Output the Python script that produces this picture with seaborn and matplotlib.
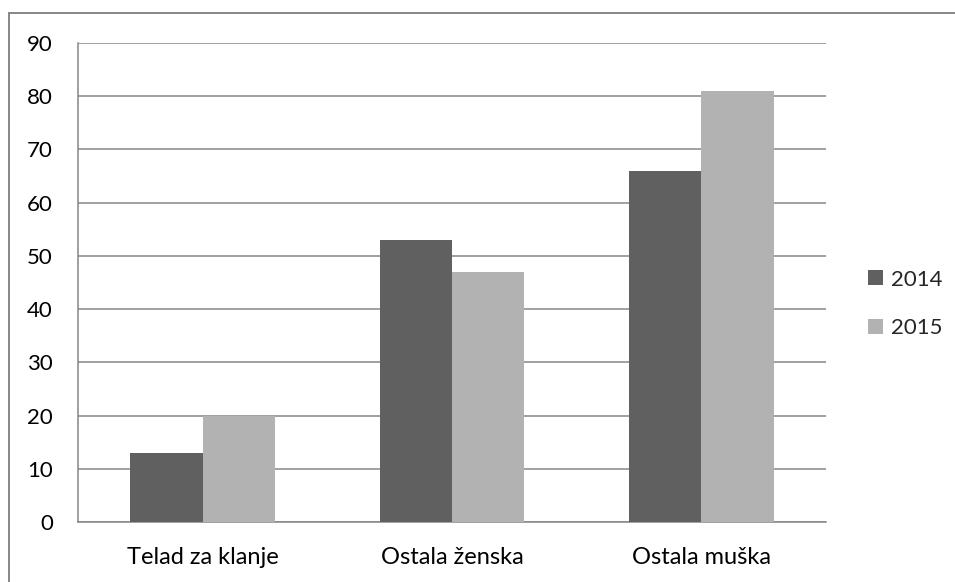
import seaborn as sns
import matplotlib.pyplot as plt
import pandas as pd
from matplotlib.lines import Line2D

categories = ["Telad za klanje", "Ostala ženska", "Ostala muška"]
years = ["2014", "2015"]
values_2014 = [13, 53, 66]
values_2015 = [20, 47, 81]

df = pd.DataFrame({
    "kategorija": categories * 2,
    "godina": [years[0]] * 3 + [years[1]] * 3,
    "broj": values_2014 + values_2015,
})

sns.set_style("white")
plt.rcParams['font.family'] = ['Lato', 'DejaVu Sans']

fig = plt.figure(figsize=(9.55, 5.82), dpi=100)
ax = fig.add_axes([78/955, 60/582, (826-78)/955, (522-43)/582])

grid_col = "#868686"
sns.barplot(data=df, x="kategorija", y="broj", hue="godina",
            palette=["#606060", "#b2b2b2"], width=0.58, saturation=1,
            linewidth=0, ax=ax, zorder=3)

ax.set_ylim(0, 90)
ax.set_yticks(range(0, 91, 10))
ax.set_xlim(-0.5, 2.5)
ax.set_xlabel(None)
ax.set_ylabel(None)
ax.yaxis.grid(True, color=grid_col, linewidth=1.1)
ax.set_axisbelow(True)
for s in ["top", "right"]:
    ax.spines[s].set_visible(False)
for s in ["left", "bottom"]:
    ax.spines[s].set_color(grid_col)
    ax.spines[s].set_linewidth(1.1)

ax.set_xticks([-0.5, 0.5, 1.5, 2.5], minor=True)
ax.tick_params(axis="x", which="major", length=0, pad=18, labelsize=17, labelcolor="black")
ax.tick_params(axis="x", which="minor", length=6, width=1.1, color=grid_col)
ax.tick_params(axis="y", length=6, width=1.1, color=grid_col, pad=12, labelsize=16,
               labelcolor="black")

leg = ax.legend(loc="center left", bbox_to_anchor=(1.03, 0.455), frameon=False,
                fontsize=16, handlelength=0.65, handleheight=0.65,
                handletextpad=0.35, labelspacing=1.3)

# outer chart border (top and left only visible)
fig.add_artist(Line2D([9/955, 9/955], [0, 1 - 13/582], color=grid_col, linewidth=1.4))
fig.add_artist(Line2D([9/955, 1], [1 - 13/582, 1 - 13/582], color=grid_col, linewidth=1.4))

fig.savefig("out.png", dpi=100)
